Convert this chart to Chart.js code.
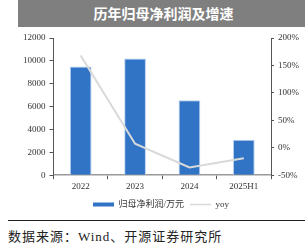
<!DOCTYPE html>
<html>
<head>
<meta charset="utf-8">
<script src="https://cdn.jsdelivr.net/npm/chart.js@4.4.0/dist/chart.umd.min.js"></script>
<style>
  body { margin: 0; width: 305px; height: 244px; background: #fff; overflow: hidden; position: relative; }
  #title {
    position: absolute; left: 18px; top: 0; width: 287px; height: 27px;
    background: #7f7f7f; color: #fff; font: bold 14px "Noto Sans CJK SC", sans-serif;
    text-align: center; line-height: 27px; text-indent: 4px;
  }
  #wrap { position: absolute; left: 0; top: 28px; width: 305px; height: 191px; }
  #rule { position: absolute; left: 8px; top: 220px; width: 297px; height: 1px; background: #222; }
  #source {
    position: absolute; left: 8px; top: 226px; font: 13px "Liberation Serif", "Noto Sans CJK SC", serif;
    letter-spacing: 1px; color: #222;
  }
</style>
</head>
<body>
<div id="title">历年归母净利润及增速</div>
<div id="wrap"><canvas id="c" width="305" height="191"></canvas></div>
<div id="rule"></div>
<div id="source">数据来源：Wind、开源证券研究所</div>
<script>
const years = ["2022", "2023", "2024", "2025H1"];
const profit = [9500, 10200, 6550, 3100];
const yoy = [1.68, 0.074, -0.358, -0.19];
const leftTicks = [0, 2000, 4000, 6000, 8000, 10000, 12000];
const rightTicks = [-0.5, 0, 0.5, 1, 1.5, 2];

const tickFont = { family: "'Liberation Serif', serif", size: 9 };
const ctx = document.getElementById('c').getContext('2d');

const myChart = new Chart(ctx, {
  data: {
    labels: years,
    datasets: [
      {
        type: 'line',
        label: 'yoy',
        data: yoy,
        yAxisID: 'y1',
        borderColor: '#d9d9d9',
        borderWidth: 2,
        pointRadius: 0,
        tension: 0,
        order: 0
      },
      {
        type: 'bar',
        label: '归母净利润/万元',
        data: profit,
        yAxisID: 'y',
        backgroundColor: '#3174c5',
        borderColor: '#b9d0ee',
        borderWidth: 1,
        barPercentage: 0.8,
        categoryPercentage: 0.5,
        order: 1
      }
    ]
  },
  options: {
    responsive: false,
    animation: false,
    layout: { padding: { top: 10, left: 19, right: 2, bottom: 0 } },
    plugins: {
      tooltip: { enabled: false },
      legend: {
        position: 'bottom',
        labels: {
          font: { family: "'Liberation Serif', 'Noto Sans CJK SC', serif", size: 9 },
          color: '#333',
          usePointStyle: true,
          pointStyleWidth: 21,
          boxHeight: 4,
          padding: 6,
          generateLabels: (chart) => [
            { text: '归母净利润/万元', fillStyle: '#3174c5', strokeStyle: '#3174c5', lineWidth: 0, pointStyle: 'rect', datasetIndex: 1, fontColor: '#333' },
            { text: 'yoy', fillStyle: '#d9d9d9', strokeStyle: '#d9d9d9', lineWidth: 1.5, pointStyle: 'line', datasetIndex: 0, fontColor: '#333' }
          ]
        }
      }
    },
    scales: {
      x: {
        offset: true,
        grid: { display: true, drawOnChartArea: false, offset: true, tickLength: 4, color: '#555' },
        border: { color: '#999', width: 1.5 },
        ticks: { font: tickFont, color: '#333', padding: 2 }
      },
      y: {
        position: 'left',
        min: 0,
        max: 12000,
        afterBuildTicks: (axis) => { axis.ticks = leftTicks.map(v => ({ value: v })); },
        grid: { display: true, drawOnChartArea: false, tickLength: 4, color: '#555' },
        border: { color: '#555' },
        ticks: { font: tickFont, color: '#333', padding: 4, callback: (v) => String(v) }
      },
      y1: {
        position: 'right',
        min: -0.5,
        max: 2,
        afterBuildTicks: (axis) => { axis.ticks = rightTicks.map(v => ({ value: v })); },
        grid: { display: true, drawOnChartArea: false, tickLength: 3, color: '#555' },
        border: { color: '#555' },
        ticks: {
          font: tickFont, color: '#333', padding: 4,
          callback: (v) => Math.round(v * 100) + '%'
        }
      }
    }
  }
});
</script>
</body>
</html>
